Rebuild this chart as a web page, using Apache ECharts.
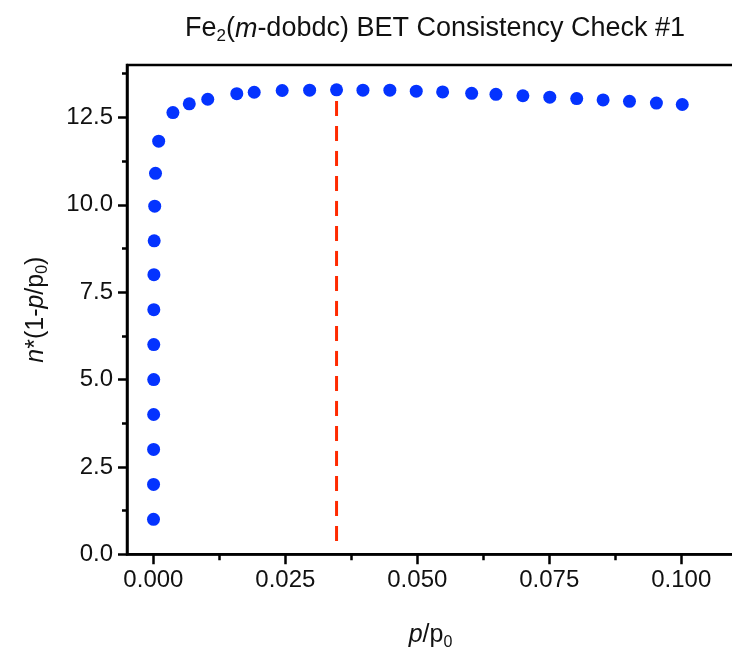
<!DOCTYPE html>
<html><head><meta charset="utf-8">
<script src="https://cdn.jsdelivr.net/npm/echarts@6/dist/echarts.min.js"></script>
<style>html,body{margin:0;padding:0;background:#fff}#c{width:732px;height:647px}</style>
</head><body><div id="c"></div>
<script>
// p/p0 values
const pressure = [0.00002, 0.00003, 0.00004, 0.00005, 0.00006, 0.00007, 0.00008, 0.00010, 0.00015, 0.00025, 0.0004, 0.0010,
  0.0037, 0.0068, 0.0103, 0.0158, 0.0191, 0.0244, 0.0296, 0.0347, 0.0397, 0.0448, 0.0498, 0.0548, 0.0603, 0.0649,
  0.0700, 0.0751, 0.0802, 0.0852, 0.0902, 0.0953, 0.1002];
// n*(1-p/p0) values
const nValues = [1.0, 2.0, 3.0, 4.0, 5.0, 6.0, 7.0, 8.0, 8.97, 9.96, 10.9, 11.82,
  12.64, 12.89, 13.02, 13.18, 13.22, 13.27, 13.28, 13.29, 13.28, 13.28, 13.25, 13.23, 13.19, 13.16,
  13.12, 13.08, 13.04, 13.00, 12.96, 12.91, 12.87];
const xTickValues = [0, 0.025, 0.05, 0.075, 0.1];
const xMinorTicks = [0.0125, 0.0375, 0.0625, 0.0875];
const yTickValues = [0, 2.5, 5, 7.5, 10, 12.5];
const yMinorTicks = [1.25, 3.75, 6.25, 8.75, 11.25, 13.75];
const cutoffX = [0.0347, 0.0347];
const cutoffY = [12.97, 0.27];

const FONT = '"Liberation Sans", Arial, sans-serif';
const chart = echarts.init(document.getElementById('c'), null, {renderer: 'canvas'});
const axisLine = {show: true, onZero: false, lineStyle: {color: '#000', width: 2.5}};
const baseRich = {
  n: {fontFamily: FONT, fontSize: 25, fontWeight: 'normal', color: '#111', lineHeight: 30},
  i: {fontFamily: FONT, fontSize: 25, fontStyle: 'italic', fontWeight: 'normal', color: '#111', lineHeight: 30},
  sub: {fontFamily: FONT, fontSize: 16, fontWeight: 'normal', color: '#111', verticalAlign: 'bottom', lineHeight: 4}
};
chart.setOption({
  animation: false,
  backgroundColor: '#fff',
  title: {
    text: '{n|Fe}{sub|2}{n|(}{i|m}{n|-dobdc) BET Consistency Check #1}',
    left: 430, top: 8, textAlign: 'center',
    textStyle: {fontWeight: 'normal', rich: {
      n: {fontFamily: FONT, fontSize: 27, fontWeight: 'normal', color: '#111', lineHeight: 32},
      i: {fontFamily: FONT, fontSize: 27, fontStyle: 'italic', fontWeight: 'normal', color: '#111', lineHeight: 32},
      sub: {fontFamily: FONT, fontSize: 17, fontWeight: 'normal', color: '#111', verticalAlign: 'bottom', lineHeight: 4}
    }}
  },
  grid: {left: 127, right: -2, top: 65, bottom: 92.7, show: true, borderColor: '#000', borderWidth: 2.5,
    containLabel: false, outerBoundsMode: 'none'},
  xAxis: [{
    type: 'value', min: -0.005, max: 0.11, position: 'bottom',
    name: '{i|p}{n|/p}{sub|0}', nameLocation: 'middle', nameGap: 66,
    nameTextStyle: {rich: baseRich},
    axisLine: axisLine,
    axisTick: {show: true, inside: false, length: 10, lineStyle: {color: '#000', width: 2.5}, customValues: xTickValues},
    axisLabel: {show: true, margin: 14, fontFamily: FONT, fontSize: 24, color: '#111', customValues: xTickValues,
      formatter: v => v.toFixed(3)},
    splitLine: {show: false}
  }, {
    type: 'value', min: -0.005, max: 0.11, position: 'bottom',
    axisLine: {show: false, onZero: false},
    axisTick: {show: true, inside: false, length: 6, lineStyle: {color: '#000', width: 2.5}, customValues: xMinorTicks},
    axisLabel: {show: false},
    splitLine: {show: false}
  }],
  yAxis: [{
    type: 'value', min: 0, max: 14, position: 'left',
    name: '{i|n}{n|*(1-}{i|p}{n|/p}{sub|0}{n|)}', nameLocation: 'middle', nameGap: 76,
    nameTextStyle: {rich: baseRich},
    axisLine: axisLine,
    axisTick: {show: true, inside: false, length: 9, lineStyle: {color: '#000', width: 2.5}, customValues: yTickValues},
    axisLabel: {show: true, margin: 14, fontFamily: FONT, fontSize: 24, color: '#111', customValues: yTickValues,
      formatter: v => v.toFixed(1)},
    splitLine: {show: false}
  }, {
    type: 'value', min: 0, max: 14, position: 'left',
    axisLine: {show: false, onZero: false},
    axisTick: {show: true, inside: false, length: 5, lineStyle: {color: '#000', width: 2.5}, customValues: yMinorTicks},
    axisLabel: {show: false},
    splitLine: {show: false}
  }],
  series: [{
    type: 'line',
    data: cutoffX.map((x, k) => [x, cutoffY[k]]),
    symbol: 'none',
    lineStyle: {color: '#ff2a00', width: 3, type: [15, 10]},
    z: 2
  }, {
    type: 'scatter',
    data: pressure.map((x, k) => [x, nValues[k]]),
    symbol: 'circle', symbolSize: 13,
    itemStyle: {color: '#0433ff', opacity: 1},
    z: 3
  }]
});
</script></body></html>
